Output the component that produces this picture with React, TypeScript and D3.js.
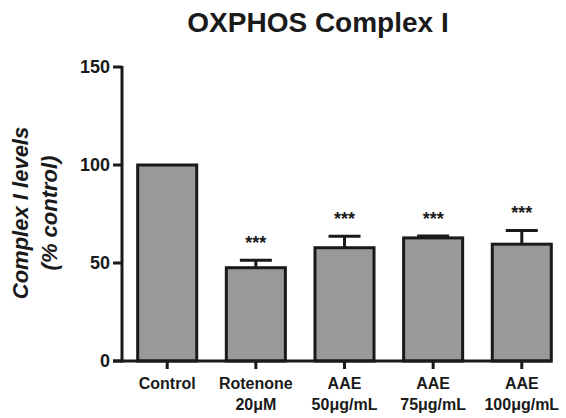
import React from "react";
import * as d3 from "d3";

// Complex I levels (% control), mean and SEM per treatment group
const categories = ["Control", "Rotenone", "AAE50", "AAE75", "AAE100"];
const labelLine1 = ["Control", "Rotenone", "AAE", "AAE", "AAE"];
const labelLine2 = ["", "20\u03bcM", "50\u03bcg/mL", "75\u03bcg/mL", "100\u03bcg/mL"];
const means = [100, 47.6, 57.8, 62.8, 59.6];
const sems = [0, 3.8, 5.8, 1.0, 7.0];
const significance = ["", "***", "***", "***", "***"];
const yTicks = [0, 50, 100, 150];

const W = 566;
const H = 418;
const FONT = "'Liberation Sans', Arial, Helvetica, sans-serif";

export default function App() {
  const y = d3.scaleLinear().domain([0, 150]).range([361, 67]);
  const x = d3
    .scaleBand<string>()
    .domain(categories)
    .range([122, 567])
    .paddingInner(0.334)
    .paddingOuter(0.177);
  const bw = x.bandwidth();
  const axisLeft = 122;
  const axisRight = (x(categories[categories.length - 1]) as number) + bw;
  const stroke = "#1a1a1a";

  return (
    <svg
      width={W}
      height={H}
      style={{ position: "absolute", left: 0, top: 0, background: "#fff" }}
      fontFamily={FONT}
    >
      <text x={318} y={32} textAnchor="middle" fontSize={28} fontWeight="bold" fill="#1a1a1a">
        OXPHOS Complex I
      </text>

      {/* y-axis title */}
      <g transform="translate(0,213) rotate(-90)" fontWeight="bold" fontStyle="italic" fontSize={22} fill="#1a1a1a">
        <text x={0} y={28} textAnchor="middle">Complex I levels</text>
        <text x={0} y={57} textAnchor="middle">(% control)</text>
      </g>

      {/* bars */}
      {categories.map((c, i) => {
        const x0 = x(c) as number;
        return (
          <rect
            key={c}
            x={x0}
            y={y(means[i])}
            width={bw}
            height={y(0) - y(means[i])}
            fill="#999999"
            stroke={stroke}
            strokeWidth={3}
          />
        );
      })}

      {/* error bars */}
      {categories.map((c, i) => {
        if (!sems[i]) return null;
        const cx = (x(c) as number) + bw / 2;
        const top = y(means[i] + sems[i]);
        return (
          <g key={"e" + c} stroke={stroke} strokeWidth={3}>
            <line x1={cx} x2={cx} y1={y(means[i])} y2={top} />
            <line x1={cx - 16} x2={cx + 16} y1={top} y2={top} />
          </g>
        );
      })}

      {/* significance markers */}
      {categories.map((c, i) => {
        if (!significance[i]) return null;
        const cx = (x(c) as number) + bw / 2;
        const top = y(means[i] + sems[i]);
        return (
          <text
            key={"s" + c}
            x={cx}
            y={top - 11}
            textAnchor="middle"
            fontSize={18}
            fontWeight="bold"
            fill="#1a1a1a"
          >
            {significance[i]}
          </text>
        );
      })}

      {/* y axis */}
      <line x1={axisLeft} x2={axisLeft} y1={y(150) - 1} y2={y(0) + 1.5} stroke={stroke} strokeWidth={3} />
      {yTicks.map((t) => (
        <g key={"yt" + t}>
          <line x1={axisLeft - 9} x2={axisLeft} y1={y(t)} y2={y(t)} stroke={stroke} strokeWidth={3} />
          <text
            x={axisLeft - 12}
            y={y(t)}
            dy="0.36em"
            textAnchor="end"
            fontSize={18}
            fontWeight="bold"
            fill="#1a1a1a"
          >
            {t}
          </text>
        </g>
      ))}

      {/* x axis */}
      <line x1={axisLeft - 9} x2={axisRight} y1={y(0)} y2={y(0)} stroke={stroke} strokeWidth={3} />
      {categories.map((c, i) => {
        const cx = (x(c) as number) + bw / 2;
        return (
          <g key={"xt" + c}>
            <line x1={cx} x2={cx} y1={y(0)} y2={y(0) + 8} stroke={stroke} strokeWidth={3} />
            <text x={cx} y={389} textAnchor="middle" fontSize={16} fontWeight="bold" fill="#1a1a1a">
              {labelLine1[i]}
            </text>
            {labelLine2[i] && (
              <text x={cx} y={410} textAnchor="middle" fontSize={16} fontWeight="bold" fill="#1a1a1a">
                {labelLine2[i]}
              </text>
            )}
          </g>
        );
      })}
    </svg>
  );
}
